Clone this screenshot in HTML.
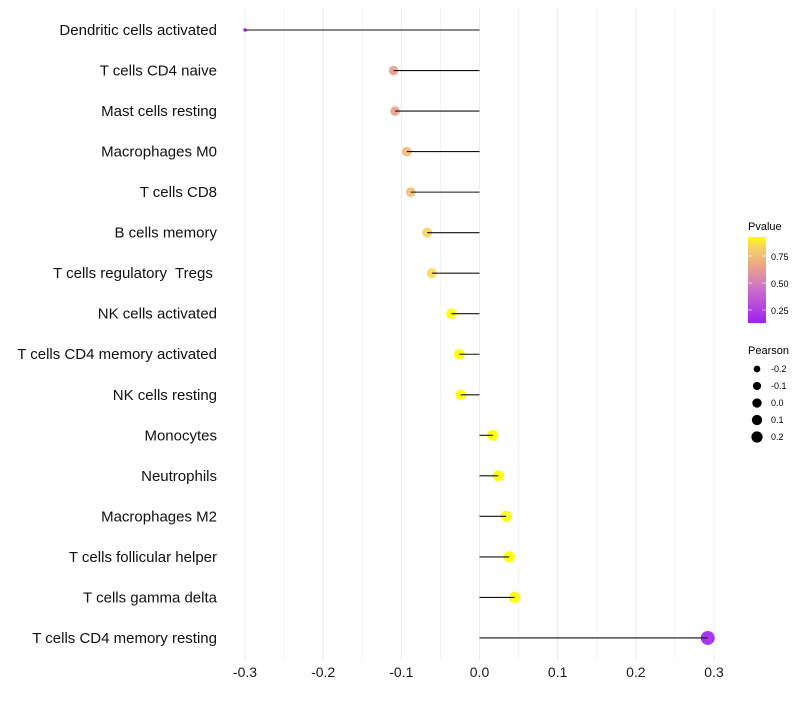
<!DOCTYPE html>
<html><head><meta charset="utf-8"><style>
body{margin:0;background:#fff;font-family:"Liberation Sans",sans-serif}
text{white-space:pre}
</style></head><body>
<svg id="chart" width="800" height="700" xmlns="http://www.w3.org/2000/svg" font-family="Liberation Sans, sans-serif">
<defs><linearGradient id="pg" x1="0" y1="1" x2="0" y2="0">
<stop offset="0" stop-color="#A020F0"/><stop offset="0.4" stop-color="#CC70C8"/><stop offset="0.64" stop-color="#E8A08C"/><stop offset="0.775" stop-color="#F2BC78"/><stop offset="0.9" stop-color="#F7D860"/><stop offset="1" stop-color="#FFFF00"/></linearGradient></defs>
<g id="grid"></g><g id="marks"></g><g id="labels"></g>
<g>
<text x="748" y="230" font-size="11">Pvalue</text>
<rect x="748" y="237" width="18" height="86" fill="url(#pg)"/>
<g stroke="#fff" stroke-opacity="0.6"><line x1="748" x2="752" y1="256" y2="256"/><line x1="762" x2="766" y1="256" y2="256"/><line x1="748" x2="752" y1="283" y2="283"/><line x1="762" x2="766" y1="283" y2="283"/><line x1="748" x2="752" y1="310" y2="310"/><line x1="762" x2="766" y1="310" y2="310"/></g>
<text x="771" y="260" font-size="9">0.75</text><text x="771" y="287" font-size="9">0.50</text><text x="771" y="314" font-size="9">0.25</text>
<text x="748" y="354" font-size="11">Pearson</text>
<g id="sizeleg"></g>
</g>
</svg>
<script>
const categories=["Dendritic cells activated","T cells CD4 naive","Mast cells resting","Macrophages M0","T cells CD8","B cells memory","T cells regulatory  Tregs ","NK cells activated","T cells CD4 memory activated","NK cells resting","Monocytes","Neutrophils","Macrophages M2","T cells follicular helper","T cells gamma delta","T cells CD4 memory resting"];
const pearson=[-0.300,-0.110,-0.108,-0.093,-0.088,-0.067,-0.061,-0.036,-0.026,-0.024,0.017,0.024,0.034,0.038,0.045,0.292];
const pvalue=[0.13,0.64,0.64,0.74,0.75,0.84,0.86,0.93,0.93,0.93,0.93,0.93,0.93,0.93,0.93,0.13];
const xTicks=[-0.3,-0.2,-0.1,0,0.1,0.2,0.3];
const xTickLabels=["-0.3","-0.2","-0.1","0.0","0.1","0.2","0.3"];
const sizeLegendVals=[-0.2,-0.1,0.0,0.1,0.2];
const sizeLegendLabels=["-0.2","-0.1","0.0","0.1","0.2"];
const NS="http://www.w3.org/2000/svg";
const x=v=>479.5+v*781.7;
const y=i=>30+i*40.53;
const r=v=>1.8+5.2*Math.sqrt(Math.max(0,(v+0.3)/0.59));
function hex(h){return [1,3,5].map(k=>parseInt(h.substr(k,2),16));}
const stops=[[0.13,hex("#A020F0")],[0.45,hex("#CC70C8")],[0.64,hex("#E8A08C")],[0.75,hex("#F2BC78")],[0.85,hex("#F7D860")],[0.93,hex("#FFFF00")]];
function col(p){p=Math.max(0.13,Math.min(0.93,p));let i=0;while(i<stops.length-2&&p>stops[i+1][0])i++;const a=stops[i],b=stops[i+1];
const t=(p-a[0])/(b[0]-a[0]);const c=a[1].map((v,k)=>Math.round(v+(b[1][k]-v)*t));return `rgb(${c.join(",")})`;}
function mk(tag,attrs,parent){const e=document.createElementNS(NS,tag);for(const k in attrs)e.setAttribute(k,attrs[k]);parent.appendChild(e);return e;}
const grid=document.getElementById('grid'),marks=document.getElementById('marks'),labels=document.getElementById('labels');
for(let v=-0.3;v<=0.301;v+=0.05){const major=Math.abs(Math.round(v*100))%10==0;const l=mk('line',{x1:x(v),x2:x(v),y1:8,y2:660,stroke:major?'#ececec':'#f4f4f4','stroke-width':1},grid);

}
xTicks.forEach((v,i)=>{const t=mk('text',{x:x(v),y:677,'font-size':14,'text-anchor':'middle',fill:'#1a1a1a'},labels);t.textContent=xTickLabels[i];

});
categories.forEach((c,i)=>{const t=mk('text',{x:217,y:y(i)+5,'font-size':15,'text-anchor':'end',fill:'#111'},labels);t.textContent=c;


const d=mk('circle',{cx:x(pearson[i]),cy:y(i),r:r(pearson[i]),fill:col(pvalue[i]),'fill-opacity':0.9},marks);


const s=mk('line',{x1:x(0),x2:x(pearson[i]),y1:y(i),y2:y(i),stroke:'#111','stroke-width':1.1},marks);

});
const sl=document.getElementById('sizeleg');
sizeLegendVals.forEach((v,i)=>{const cy=369+i*17;const c=mk('circle',{cx:757,cy:cy,r:r(v)*0.85,fill:'#000'},sl);


const t=mk('text',{x:771,y:cy+3,'font-size':9},sl);t.textContent=sizeLegendLabels[i];

});
</script>
</body></html>
